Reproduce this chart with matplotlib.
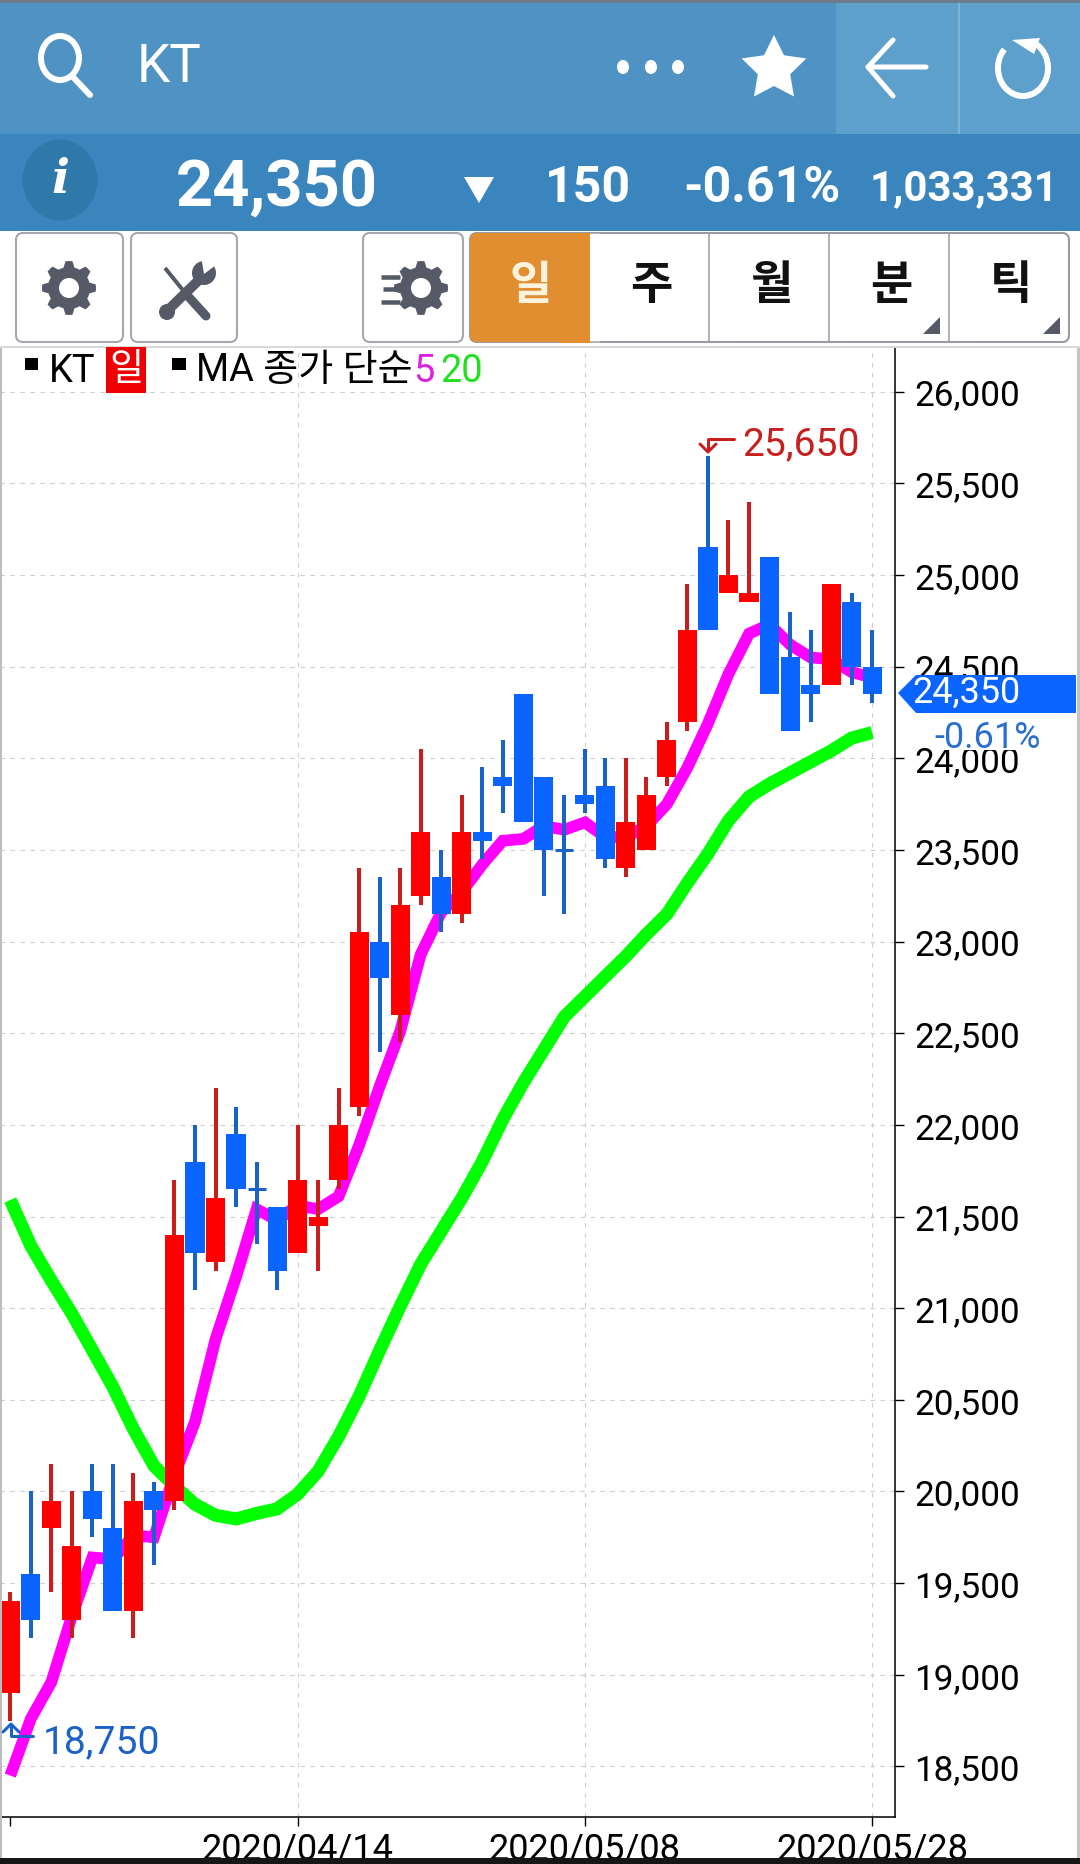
import numpy as np
import matplotlib
matplotlib.use("Agg")
import matplotlib.pyplot as plt
from matplotlib.patches import FancyBboxPatch, Rectangle, Polygon, Circle, Ellipse, Arc
from matplotlib.transforms import ScaledTranslation

plt.rcParams['font.family'] = ['Roboto', 'Noto Sans CJK KR', 'DejaVu Sans']

# ---------- data ----------
opens = [18900,19550,19800,19300,20000,19800,19350,20000,19950,21800,21250,21950,21650,21550,21300,21450,21700,22100,
         23000,22600,23250,23350,23150,23600,23900,24350,23900,23500,23800,23850,23400,23500,23900,24200,25150,24900,
         24850,25100,24550,24400,24400,24850,24500]
closes = [19400,19300,19950,19700,19850,19350,19950,19900,21400,21300,21600,21650,21650,21200,21700,21500,22000,23050,
          22800,23200,23600,23150,23600,23550,23850,23650,23500,23500,23750,23450,23650,23800,24100,24700,24700,25000,
          24900,24350,24150,24350,24950,24500,24350]
highs = [19450,20000,20150,20000,20150,20150,20100,20050,21700,22000,22200,22100,21800,21550,22000,21700,22200,23400,
         23350,23400,24050,23500,23800,23950,24100,24350,23900,23800,24050,24000,24000,23900,24200,24950,25650,25300,
         25400,25100,24800,24700,24950,24900,24700]
lows = [18750,19200,19450,19200,19750,19350,19200,19600,19900,21100,21200,21550,21350,21100,21300,21200,21650,22050,
        22400,22450,23200,23050,23100,23450,23700,23650,23250,23150,23700,23400,23350,23500,23850,24150,24700,24900,
        24850,24350,24150,24200,24400,24400,24300]
ma5 = [18450,18760,18960,19320,19640,19630,19760,19750,20090,20380,20830,21170,21540,21480,21560,21540,21610,21890,
       22210,22510,22930,23160,23270,23420,23550,23560,23630,23610,23650,23570,23570,23630,23750,23950,24190,24460,
       24680,24730,24620,24550,24540,24470,24440]
ma20 = [21590,21340,21150,20970,20770,20570,20340,20140,20030,19930,19870,19850,19880,19905,19985,20110,20300,20520,
        20770,21010,21240,21420,21600,21800,22030,22230,22410,22590,22700,22810,22920,23040,23150,23320,23480,23660,
        23790,23860,23920,23980,24040,24110,24140]
y_ticks = [18500,19000,19500,20000,20500,21000,21500,22000,22500,23000,23500,24000,24500,25000,25500,26000]
x_tick_pos = [0,14,28,42]
x_tick_labels = ['', '2020/04/14', '2020/05/08', '2020/05/28']

RED, BLUE, WRED, WBLUE = '#ff0000', '#0a64ff', '#c81e1e', '#1a62c8'
W, H = 1080, 1864
px = 0.72
fig = plt.figure(figsize=(W/100, H/100), dpi=100, facecolor='white')

# ---------- chart ----------
top, bottom, right = 348, 1817, 895
ax = fig.add_axes([0, 1-bottom/H, right/W, (bottom-top)/H], zorder=1)
step = 20.52
ax.set_xlim(-10.3/step, (right-10.3)/step)
ax.set_ylim(25500-(bottom-483.3)/0.1833, 25500+(483.3-top)/0.1833)
for s in ('top', 'left'):
    ax.spines[s].set_visible(False)
for s in ('right', 'bottom'):
    ax.spines[s].set_linewidth(1.1)
ax.yaxis.tick_right()
ax.set_yticks(y_ticks)
ax.set_yticklabels([f'{v:,}' for v in y_ticks], fontsize=25.3, color='black')
ax.set_xticks(x_tick_pos)
ax.set_xticklabels(x_tick_labels, fontsize=26, color='black')
ax.tick_params(axis='y', length=6.5, width=1, pad=7.5)
ax.tick_params(axis='x', length=6.5, width=1, pad=4)
shift = ScaledTranslation(0, -1/100, fig.dpi_scale_trans)
for lab in ax.get_yticklabels():
    lab.set_transform(lab.get_transform()+shift)
ax.grid(True, color='#cdcdcd', lw=0.8, ls=(0, (4, 5)), zorder=0)
ax.set_axisbelow(True)
ax.xaxis.get_gridlines()[0].set_visible(False)
idx = np.arange(len(closes))
ax.plot(idx, ma20, color='#00ff00', lw=9.4, solid_joinstyle='miter', solid_capstyle='butt', zorder=2)
ax.plot(idx, ma5, color='#ff00ff', lw=8.4, solid_joinstyle='miter', solid_capstyle='butt', zorder=2.1)
for i, (o, c, h, l) in enumerate(zip(opens, closes, highs, lows)):
    up = c > o
    ax.vlines(i, l, h, color=WRED if up else WBLUE, lw=2.9, zorder=3)
    if o == c:
        ax.hlines(c, i-0.44, i+0.44, color=WBLUE, lw=2.2, zorder=4)
    else:
        ax.bar(i, abs(c-o), bottom=min(o, c), width=0.93, color=RED if up else BLUE, zorder=4)

# ---------- overlay (app interface) ----------
ui = fig.add_axes([0, 0, 1, 1], zorder=2)
ui.set_xlim(0, W); ui.set_ylim(H, 0); ui.axis('off'); ui.patch.set_alpha(0)
def rect(x0, y0, x1, y1, c, z=1):
    ui.add_patch(Rectangle((x0, y0), x1-x0, y1-y0, fc=c, ec='none', zorder=z))
def T(x, y, s, size, c='black', ha='center', w='normal', **k):
    ui.text(x, y, s, fontsize=size*px, color=c, ha=ha, va='center', fontweight=w, zorder=6, **k)
def L(xs, ys, c, lw, z=5, **k):
    ui.plot(xs, ys, color=c, lw=lw*px, zorder=z, solid_capstyle=k.pop('cap', 'round'), **k)

rect(0, 194+33, W, 348, 'white')
rect(0, 0, W, 3, '#6e7b8a', 3)
rect(0, 3, W, 134, '#4e93c4')
rect(836, 3, W, 134, '#5ea0cc')
L([959, 959], [3, 134], '#86bbdc', 1.5, cap='butt')
rect(0, 134, W, 231, '#3a85bd')
rect(0, 1858, W, H, '#161616', 3)
rect(0, 348, 2, 1858, '#bdbdbd', 3)
rect(1077, 348, W, 1858, '#c4c4c4', 3)
L([0, W], [347, 347], '#cfcfcf', 1.5, cap='butt')

# top bar icons
ui.add_patch(Ellipse((60, 58), 38, 44, fc='none', ec='white', lw=6*px, zorder=5))
L([72, 90], [76, 95], 'white', 6)
T(169, 67, 'KT', 53, 'white')
for x in (623, 651, 678):
    ui.add_patch(Ellipse((x, 67), 12, 14, fc='white', ec='none', zorder=5))
ang = np.deg2rad(np.arange(-90, 270, 36))
rad = np.where(np.arange(10) % 2 == 0, 34, 17)
ui.add_patch(Polygon(np.c_[774+rad*np.cos(ang), 69+rad*np.sin(ang)], fc='white', ec='none', zorder=5))
L([926, 868, 893], [67, 67, 40], 'white', 5)
L([868, 893], [67, 96], 'white', 5)
ui.add_patch(Arc((1023, 68), 50, 56, theta1=-60, theta2=225, ec='white', lw=6*px, zorder=5))
ui.add_patch(Polygon([[1012, 40], [1040, 38], [1034, 54]], fc='white', ec='none', zorder=5))

# price row
ui.add_patch(Ellipse((60, 180), 75, 81, fc='#2f78aa', ec='none', zorder=5))
ui.text(60, 180, 'i', fontsize=34, color='white', ha='center', va='center', fontweight='bold',
        style='italic', family='DejaVu Serif', zorder=6)
T(277, 188, '24,350', 65, 'white', w='bold')
ui.add_patch(Polygon([[464, 177], [494, 177], [479, 203]], fc='white', ec='none', zorder=5))
T(588, 189, '150', 50, 'white', w='bold')
T(762, 189, '-0.61%', 50, 'white', w='bold')
T(964, 189, '1,033,331', 42, 'white', w='bold')

# toolbar
def btn(x0, x1):
    ui.add_patch(FancyBboxPatch((x0+4, 237), x1-x0-8, 101, boxstyle='round,pad=4,rounding_size=7',
                                fc='white', ec='#a6a6ae', lw=1.5, zorder=2))
btn(16, 123); btn(131, 237); btn(363, 463)
def gear(cx, cy, r=27):
    a = np.deg2rad(np.arange(0, 360, 360/48))
    rr = np.array([r if (k % 6) in (5, 0, 1) else r*0.78 for k in range(48)])
    ui.add_patch(Polygon(np.c_[cx+rr*np.sin(a), cy+rr*np.cos(a)], fc='#555a66', ec='none', zorder=5))
    ui.add_patch(Circle((cx, cy), r*0.37, fc='white', ec='none', zorder=6))
gear(69, 288); gear(421, 288)
for y, x0 in ((277, 381), (289, 383), (302, 381)):
    L([x0, 400], [y, y], '#555a66', 4.5, cap='butt')
# screwdriver
L([165, 186], [268, 294], '#555a66', 4, cap='butt')
L([186, 206], [294, 316], '#555a66', 9, cap='round')
# wrench
L([201, 168], [278, 310], '#555a66', 10, cap='butt')
ui.add_patch(Circle((167, 312), 8, fc='#555a66', ec='none', zorder=5))
ui.add_patch(Circle((204, 273), 12, fc='#555a66', ec='none', zorder=5))
ui.add_patch(Polygon([[204, 274], [201, 256], [220, 262]], fc='white', ec='none', zorder=6))

ui.add_patch(FancyBboxPatch((474, 237), 591, 101, boxstyle='round,pad=4,rounding_size=7',
                            fc='white', ec='#9a9aa2', lw=1.5, zorder=2))
ui.add_patch(FancyBboxPatch((474, 237), 120, 101, boxstyle='round,pad=4,rounding_size=7',
                            fc='#e08e30', ec='none', zorder=3))
rect(560, 233, 590, 343, '#e08e30', 3)
rect(590, 233, 600, 343, 'white', 3)
L([590, 1065], [233, 233], '#9a9aa2', 1.5, z=4, cap='butt')
L([590, 1065], [342, 342], '#9a9aa2', 1.5, z=4, cap='butt')
for x in (709, 829, 949):
    L([x, x], [233, 342], '#9a9aa2', 1.5, cap='butt')
for x, s, c in zip((531, 651, 771, 891, 1011), '일주월분틱', ('#fdf3dc',)+('#111111',)*4):
    T(x, 286, s, 46, c, w='bold')
for x in (940, 1060):
    ui.add_patch(Polygon([[x, 317], [x, 334], [x-17, 334]], fc='#555a66', ec='none', zorder=5))

# legend
rect(25, 358, 38, 370, 'black', 5)
T(49, 371, 'KT', 38, 'black', ha='left')
rect(106, 347, 146, 393, '#f00000', 5)
T(126, 370, '일', 37, 'white')
rect(172, 358, 186, 370, 'black', 5)
T(196, 371, 'MA 종가 단순', 38, 'black', ha='left')
T(413, 371, '5', 38, '#e020e0', ha='left')
T(440, 371, '20', 38, '#20e020', ha='left')

# high / low markers
T(742, 445, '25,650', 39, WRED, ha='left')
L([734, 708, 708], [439, 439, 450], WRED, 3)
L([700, 708, 716], [444, 452, 444], WRED, 3)
T(43, 1743, '18,750', 39, WBLUE, ha='left')
L([33, 11, 11], [1736, 1736, 1725], WBLUE, 3)
L([3, 11, 19], [1732, 1724, 1732], WBLUE, 3)

# current price tag
ui.add_patch(Polygon([[898, 693], [916, 675], [1076, 675], [1076, 713], [916, 713]], fc=BLUE, ec='none', zorder=5))
T(966, 693, '24,350', 36, 'white')
rect(930, 716, 1076, 750, 'white', 5)
T(988, 738, '-0.61%', 36, '#2a6fd0')

fig.savefig('out.png', dpi=100)
